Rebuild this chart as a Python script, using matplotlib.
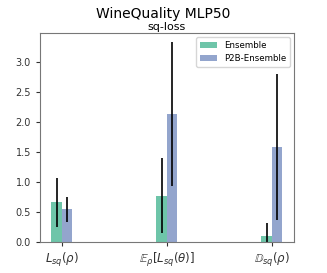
import matplotlib
matplotlib.use('Agg')
import matplotlib.pyplot as plt
import numpy as np

labels = [r'$L_{sq}(\rho)$', r'$\mathbb{E}_{\rho}[L_{sq}(\theta)]$', r'$\mathbb{D}_{sq}(\rho)$']
ens_mean = [0.66, 0.77, 0.10]
ens_err = [0.41, 0.63, 0.22]
p2b_mean = [0.54, 2.13, 1.58]
p2b_err = [0.21, 1.20, 1.22]

fig = plt.figure(figsize=(3.27, 2.73), dpi=100)
ax = fig.add_axes([0.122, 0.114, 0.777, 0.765])
x = np.arange(len(labels))
w = 0.1
ax.bar(x - w / 2, ens_mean, w, yerr=ens_err, color='#66c2a5', alpha=0.95,
       label='Ensemble', error_kw=dict(lw=1.2, ecolor='black'))
ax.bar(x + w / 2, p2b_mean, w, yerr=p2b_err, color='#8da0cb', alpha=0.95,
       label='P2B-Ensemble', error_kw=dict(lw=1.2, ecolor='black'))
ax.set_xticks(x)
ax.set_xticklabels(labels, fontsize=8.5)
ax.set_ylim(0, 3.48)
ax.tick_params(axis='y', labelsize=7, colors='#333333', length=3)
ax.tick_params(axis='x', length=3, colors='#333333')
for s in ax.spines.values():
    s.set_color('#777777')
ax.set_title('sq-loss', fontsize=8, pad=2)
fig.suptitle('WineQuality MLP50', fontsize=10, y=0.975)
ax.legend(loc='upper right', fontsize=6.2)
fig.savefig('out.png', dpi=100)
